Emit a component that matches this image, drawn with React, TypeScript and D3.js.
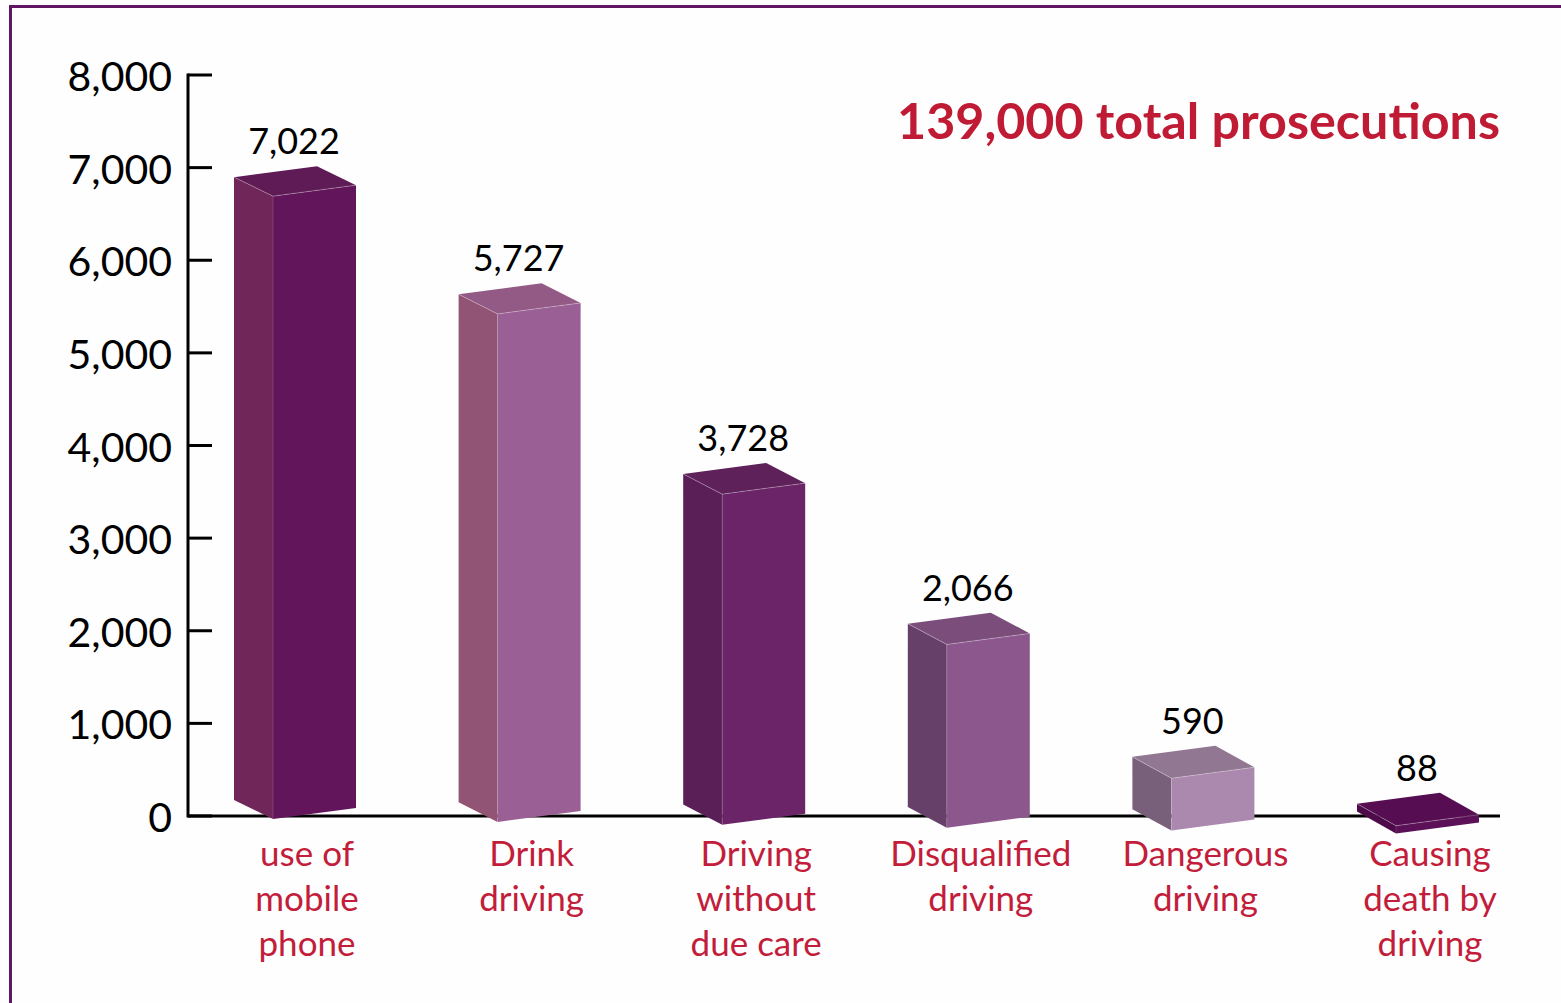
import React from "react";
import * as d3 from "d3";

const categories: string[][] = [
  ["use of", "mobile", "phone"],
  ["Drink", "driving"],
  ["Driving", "without", "due care"],
  ["Disqualified", "driving"],
  ["Dangerous", "driving"],
  ["Causing", "death by", "driving"],
];
const values: number[] = [7022, 5727, 3728, 2066, 590, 88];
const yTicks: number[] = [0, 1000, 2000, 3000, 4000, 5000, 6000, 7000, 8000];
const title = "139,000 total prosecutions";

const frontColors = ["#62155a", "#9a6095", "#6b2468", "#8c578d", "#ab89af", "#5b1057"];
const sideColors = ["#702659", "#915474", "#5a1f56", "#67406a", "#78607a", "#4e0b49"];
const topColors = ["#5f1b56", "#935a86", "#5f2159", "#7b4d7b", "#917791", "#560d51"];

const W = 1561;
const H = 1003;

export default function App() {
  const yAxis = d3.scaleLinear().domain([0, 8000]).range([816, 75]);
  const barH = d3.scaleLinear().domain([0, 8000]).range([0, 709.6]);
  const x = d3
    .scalePoint<number>()
    .domain(values.map((_, i) => i))
    .range([273, 1396]);

  const axisX = 188;
  const tickLen = 24;
  const fmt = d3.format(",");

  const frontW = 83;
  const slope = 11;
  const red = "#c21d3a";

  return (
    <svg
      width={W}
      height={H}
      style={{ position: "absolute", left: 0, top: 0, background: "#fefefe" }}
      fontFamily="Lato, 'Open Sans', sans-serif"
    >
      <rect x={0} y={0} width={W} height={H} fill="#fefefe" />
      {/* frame */}
      <path d={`M10.5,${H + 5} V6.5 H${W + 5}`} fill="none" stroke="#5f1764" strokeWidth={3} />

      {/* title */}
      <text
        x={897}
        y={139}
        textLength={603}
        lengthAdjust="spacingAndGlyphs"
        fontSize={49}
        fontWeight={700}
        fill="#c01b35"
      >
        {title}
      </text>

      {/* axis */}
      <line x1={axisX} x2={axisX} y1={yAxis(8000) - 1.5} y2={yAxis(0) + 1.5} stroke="#000" strokeWidth={3} />
      <line x1={axisX} x2={1500} y1={yAxis(0)} y2={yAxis(0)} stroke="#000" strokeWidth={3} />
      {yTicks.map((t) => (
        <g key={t}>
          <line x1={axisX} x2={axisX + tickLen} y1={yAxis(t)} y2={yAxis(t)} stroke="#000" strokeWidth={3} />
          <text x={172} y={yAxis(t) + 16} textAnchor="end" fontSize={41} fill="#000">
            {fmt(t)}
          </text>
        </g>
      ))}

      {/* bars */}
      {values.map((v, i) => {
        const fx = x(i)!;
        const yb = 819 + i * 2.9;
        const h = barH(v);
        const dx = -39;
        const dy = -19 - i * 0.6;
        const fl = [fx, yb];
        const fr = [fx + frontW, yb - slope];
        const flT = [fx, yb - h];
        const frT = [fx + frontW, yb - slope - h];
        const bl = [fx + dx, yb + dy];
        const blT = [fx + dx, yb + dy - h];
        const brT = [fx + frontW + dx, yb - slope - h + dy];
        const pts = (a: number[][]) => a.map((p) => p.join(",")).join(" ");
        const topY = Math.min(brT[1], blT[1]);
        return (
          <g key={i}>
            <polygon points={pts([bl, fl, flT, blT])} fill={sideColors[i]} />
            <polygon points={pts([fl, fr, frT, flT])} fill={frontColors[i]} />
            <polygon points={pts([flT, frT, brT, blT])} fill={topColors[i]} />
            <polyline
              points={pts([blT, flT, frT])}
              fill="none"
              stroke="rgba(255,255,255,0.35)"
              strokeWidth={0.8}
            />
            <line
              x1={flT[0]}
              y1={flT[1]}
              x2={fl[0]}
              y2={fl[1]}
              stroke="rgba(255,255,255,0.18)"
              strokeWidth={0.8}
            />
            <text x={fx + 21} y={topY - 12} textAnchor="middle" fontSize={36} fill="#000">
              {fmt(v)}
            </text>
            <text textAnchor="middle" fontSize={35} fill={red}>
              {categories[i].map((line, j) => (
                <tspan key={j} x={fx + 34} y={866 + j * 45}>
                  {line}
                </tspan>
              ))}
            </text>
          </g>
        );
      })}
    </svg>
  );
}
